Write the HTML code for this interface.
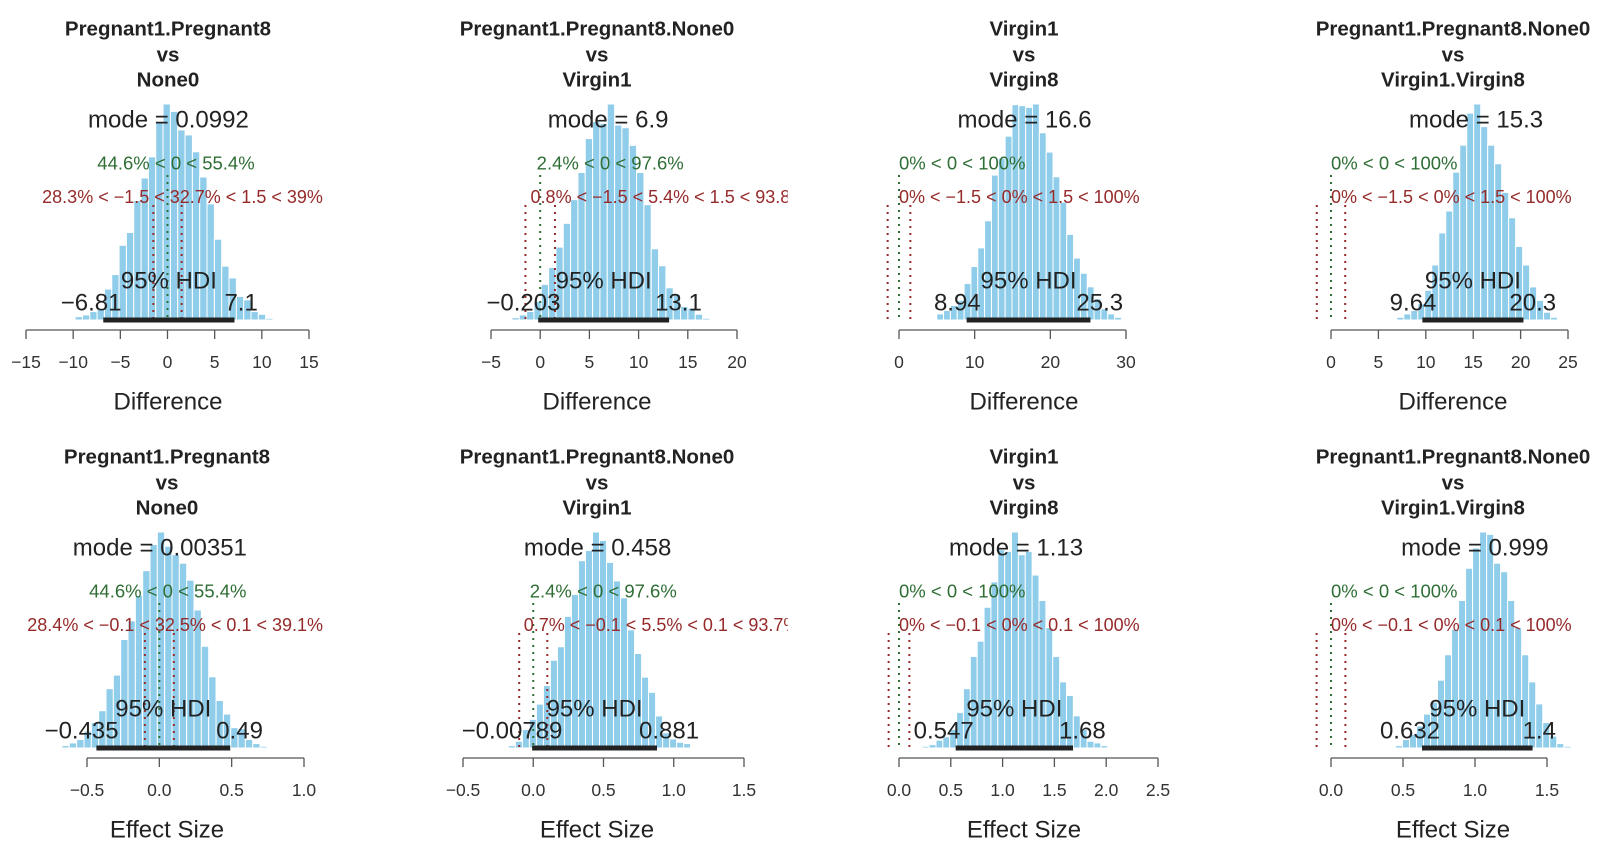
<!DOCTYPE html>
<html><head><meta charset="utf-8"><style>
html,body{margin:0;padding:0;background:#fff;}
svg{display:block;font-family:"Liberation Sans",Arial,sans-serif;}
</style></head><body>
<svg id="chart" width="1615" height="850" viewBox="0 0 1615 850" xmlns="http://www.w3.org/2000/svg"></svg>
<script>
// ---- data ----
const p1Counts=[3,10,15,25,35,92,135,222,260,355,422,485,590,642,620,565,550,500,425,345,240,160,125,70,60,25,17,5,3,2,1];
const p2Counts=[7,15,25,55,105,155,215,285,355,435,535,585,580,637,575,567,515,435,340,210,160,95,75,40,35,17,5];
const p3Counts=[1,3,18,28,43,58,108,158,213,293,428,478,543,636,633,628,638,553,496,423,348,253,183,138,98,63,33,18,8,3];
const p4Counts=[2,8,18,28,48,88,163,258,323,438,518,613,640,573,518,463,378,303,218,163,98,58,23,8,3];
const p5Counts=[2,7,15,25,50,75,110,175,215,320,375,450,523,600,637,595,570,545,495,407,300,210,140,100,60,57,25,13,5,2,1];
const p6Counts=[3,7,20,55,85,130,185,260,300,390,455,555,585,640,615,550,495,445,350,280,210,165,95,45,27,17,13,2];
const p7Counts=[2,5,10,23,33,55,105,175,270,315,415,490,585,580,637,570,580,510,435,355,270,195,155,95,55,20,15,7,3];
const p8Counts=[2,7,25,40,65,100,135,200,275,350,435,530,590,637,630,545,520,435,355,275,195,130,75,35,13,5];
const binStarts=[-10.57,-2.87,3.18,6.21,-0.7235,-0.227,0.158,0.399];
const binWidths=[0.777,0.745,0.904,0.737,0.0507,0.0499,0.0663,0.0487];
const modes=[0.0992,6.9,16.6,15.3,0.00351,0.458,1.13,0.999];
const modeLabels=["0.0992","6.9","16.6","15.3","0.00351","0.458","1.13","0.999"];
const hdiLow=[-6.81,-0.203,8.94,9.64,-0.435,-0.00789,0.547,0.632];
const hdiHigh=[7.1,13.1,25.3,20.3,0.49,0.881,1.68,1.4];
const hdiLowLabels=["−6.81","−0.203","8.94","9.64","−0.435","−0.00789","0.547","0.632"];
const hdiHighLabels=["7.1","13.1","25.3","20.3","0.49","0.881","1.68","1.4"];
const pctBelowZero=[44.6,2.4,0,0,44.6,2.4,0,0];
const pctBelowRope=[28.3,0.8,0,0,28.4,0.7,0,0];
const pctInRope=[32.7,5.4,0,0,32.5,5.5,0,0];
const ropeHalf=[1.5,1.5,1.5,1.5,0.1,0.1,0.1,0.1];
const greenLabels=["44.6% < 0 < 55.4%","2.4% < 0 < 97.6%","0% < 0 < 100%","0% < 0 < 100%","44.6% < 0 < 55.4%","2.4% < 0 < 97.6%","0% < 0 < 100%","0% < 0 < 100%"];
const redLabels=["28.3% < −1.5 < 32.7% < 1.5 < 39%","0.8% < −1.5 < 5.4% < 1.5 < 93.8%","0% < −1.5 < 0% < 1.5 < 100%","0% < −1.5 < 0% < 1.5 < 100%","28.4% < −0.1 < 32.5% < 0.1 < 39.1%","0.7% < −0.1 < 5.5% < 0.1 < 93.7%","0% < −0.1 < 0% < 0.1 < 100%","0% < −0.1 < 0% < 0.1 < 100%"];
const titleTop=["Pregnant1.Pregnant8","Pregnant1.Pregnant8.None0","Virgin1","Pregnant1.Pregnant8.None0","Pregnant1.Pregnant8","Pregnant1.Pregnant8.None0","Virgin1","Pregnant1.Pregnant8.None0"];
const titleBottom=["None0","Virgin1","Virgin8","Virgin1.Virgin8","None0","Virgin1","Virgin8","Virgin1.Virgin8"];
const xLabels=["Difference","Difference","Difference","Difference","Effect Size","Effect Size","Effect Size","Effect Size"];
const tickMin=[-15,-5,0,0,-0.5,-0.5,0,0];
const tickMax=[15,20,30,25,1.0,1.5,2.5,1.5];
const tickStep=[5,5,10,5,0.5,0.5,0.5,0.5];
const tickDecimals=[0,0,0,0,1,1,1,1];
// ---- layout (pixels) ----
const axisPx=[[26,309],[491,737],[899,1126],[1331,1568],[87,304],[463,744],[899,1158],[1331,1547]];
const titleCenters=[168,597,1024,1453,167,597,1024,1453];
const countsList=[p1Counts,p2Counts,p3Counts,p4Counts,p5Counts,p6Counts,p7Counts,p8Counts];

const NS="http://www.w3.org/2000/svg";
const svg=document.getElementById('chart');
function mk(tag,attrs,parent){const e=document.createElementNS(NS,tag);for(const k in attrs)e.setAttribute(k,attrs[k]);(parent||svg).appendChild(e);return e;}
function txt(str,x,y,size,color,weight,parent){const t=mk('text',{x:x,y:y,'font-size':size,fill:color,'text-anchor':'middle','dominant-baseline':'central','font-weight':weight||'normal'},parent);t.textContent=str;return t;}
function fmt(v,d){const s=Math.abs(v).toFixed(d);return (v<-1e-9?'−':'')+s;}

for(let i=0;i<8;i++){
  const col=i%4,row=Math.floor(i/4),dy=row*428,colX=col*403.75;
  const g=mk('g',{});
  
  
  const cp=mk('clipPath',{id:'clip'+i});
  mk('rect',{x:colX,y:dy,width:384,height:428},cp);
  const [a0,a1]=axisPx[i];
  const xs=v=>a0+(v-tickMin[i])/(tickMax[i]-tickMin[i])*(a1-a0);
  const base=320+dy;
  const counts=countsList[i];
  const maxC=Math.max(...counts);
  const ys=c=>base-c/maxC*216;
  // title
  const t1=txt(titleTop[i],titleCenters[i],29+dy,20.5,'#222','bold',g);
  
  
  const t2=txt('vs',titleCenters[i],55+dy,20.5,'#222','bold',g);
  
  
  const t3=txt(titleBottom[i],titleCenters[i],80+dy,20.5,'#222','bold',g);
  
  
  // histogram
  const hg=mk('g',{},g);
  
  
  counts.forEach((c,k)=>{
    const x0=xs(binStarts[i]+k*binWidths[i]),x1=xs(binStarts[i]+(k+1)*binWidths[i]);
    const r=mk('rect',{x:x0,y:ys(c),width:x1-x0,height:base-ys(c),fill:'#8fcdea',stroke:'#ffffff','stroke-width':1},hg);
    
    
  });
  const cg=mk('g',{'clip-path':'url(#clip'+i+')'},g);
  // comparison lines
  const gl=mk('line',{x1:xs(0),x2:xs(0),y1:175+dy,y2:base,stroke:'#2f6e35','stroke-width':2,'stroke-dasharray':'2,5'},cg);
  
  
  [-ropeHalf[i],ropeHalf[i]].forEach(v=>{
    const rl=mk('line',{x1:xs(v),x2:xs(v),y1:205+dy,y2:base,stroke:'#962a2a','stroke-width':2,'stroke-dasharray':'2,5'},cg);
    
    
  });
  // HDI bar
  const hb=mk('line',{x1:xs(hdiLow[i]),x2:xs(hdiHigh[i]),y1:base,y2:base,stroke:'#222','stroke-width':5},g);
  
  
  // texts
  const mt=txt('mode = '+modeLabels[i],xs(modes[i]),120+dy,24,'#222','normal',cg);
  
  
  const gt=txt(greenLabels[i],0,163+dy,18.5,'#2f6e35','normal',cg);
  
  
  gt.setAttribute('text-anchor','start');
  gt.setAttribute('x',xs(0)-pctBelowZero[i]/100*gt.getComputedTextLength());
  const rt=txt(redLabels[i],0,197+dy,18,'#962a2a','normal',cg);
  
  
  rt.setAttribute('text-anchor','start');
  rt.setAttribute('x',xs(0)-(pctBelowRope[i]+pctInRope[i]/2)/100*rt.getComputedTextLength());
  const ht=txt('95% HDI',(xs(hdiLow[i])+xs(hdiHigh[i]))/2,281+dy,24,'#222','normal',cg);
  
  
  const lo=txt(hdiLowLabels[i],0,303+dy,24,'#222','normal',cg);
  
  
  lo.setAttribute('text-anchor','start');
  lo.setAttribute('x',xs(hdiLow[i])-0.7*lo.getComputedTextLength());
  const hi=txt(hdiHighLabels[i],0,303+dy,24,'#222','normal',cg);
  
  
  hi.setAttribute('text-anchor','start');
  hi.setAttribute('x',xs(hdiHigh[i])-0.3*hi.getComputedTextLength());
  // axis
  const ag=mk('g',{},g);
  
  
  const ay=330+dy;
  mk('line',{x1:a0,x2:a1,y1:ay,y2:ay,stroke:'#555','stroke-width':1.3},ag);
  const n=Math.round((tickMax[i]-tickMin[i])/tickStep[i]);
  for(let k=0;k<=n;k++){
    const v=tickMin[i]+k*tickStep[i],x=xs(v);
    mk('line',{x1:x,x2:x,y1:ay,y2:ay+9,stroke:'#555','stroke-width':1.3},ag);
    const tl=txt(fmt(v,tickDecimals[i]),x,362+dy,17.5,'#333','normal',ag);
    
    
  }
  const xl=txt(xLabels[i],titleCenters[i],402+dy,24,'#222','normal',g);
  
  
}
</script>
</body></html>
